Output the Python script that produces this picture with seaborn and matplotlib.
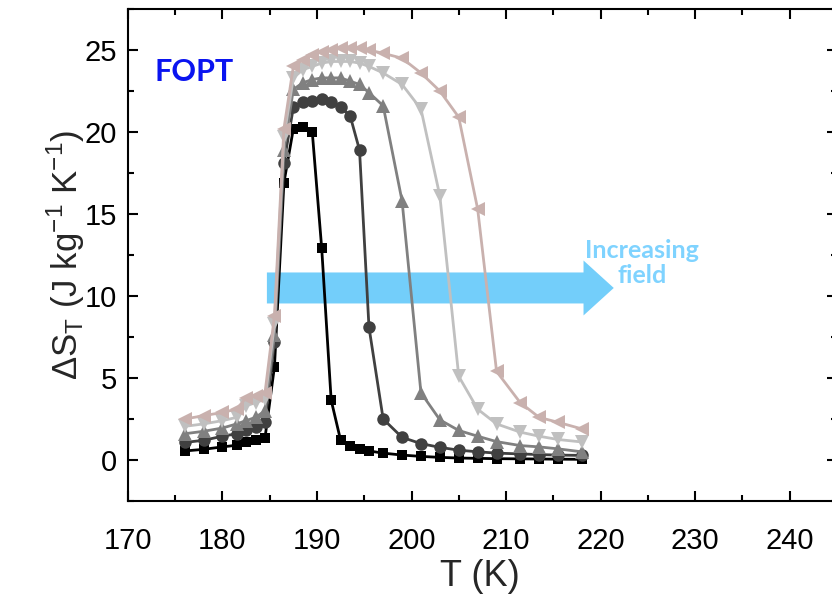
import numpy as np
import pandas as pd
import matplotlib
matplotlib.use("Agg")
import matplotlib.pyplot as plt
import seaborn as sns
from matplotlib.patches import FancyArrow
from matplotlib.ticker import MultipleLocator

# temperatures (K), common grid for all field values
T = [176, 178, 180, 181.5, 182.5, 183.5, 184.5, 185.5, 186.5, 187.5, 188.5,
     189.5, 190.5, 191.5, 192.5, 193.5, 194.5, 195.5, 197, 199, 201, 203,
     205, 207, 209, 211.5, 213.5, 215.5, 218]

# entropy change curves, lowest field -> highest field
ds_1 = [0.55, 0.65, 0.8, 0.9, 1.1, 1.2, 1.35, 5.7, 16.9, 20.2, 20.3, 20.0,
        12.9, 3.65, 1.2, 0.85, 0.65, 0.55, 0.42, 0.3, 0.22, 0.16, 0.12, 0.1,
        0.08, 0.07, 0.06, 0.05, 0.04]
ds_2 = [1.07, 1.2, 1.45, 1.6, 1.85, 2.0, 2.3, 7.2, 18.1, 21.5, 21.8, 21.9,
        22.0, 21.8, 21.5, 21.0, 18.9, 8.1, 2.5, 1.38, 1.0, 0.77, 0.6, 0.5,
        0.42, 0.37, 0.33, 0.3, 0.28]
ds_3 = [1.6, 1.75, 1.95, 2.2, 2.4, 2.6, 3.0, 7.6, 18.9, 22.6, 23.0, 23.2,
        23.3, 23.3, 23.3, 23.1, 22.9, 22.4, 21.6, 15.8, 4.1, 2.45, 1.8, 1.45,
        1.12, 0.88, 0.8, 0.68, 0.5]
ds_4 = [2.05, 2.2, 2.4, 2.6, 3.3, 3.5, 3.7, 8.3, 19.7, 23.3, 23.8, 24.0,
        24.2, 24.3, 24.3, 24.3, 24.2, 24.0, 23.6, 22.9, 21.4, 16.1, 5.1, 3.1,
        2.2, 1.7, 1.45, 1.25, 1.1]
ds_5 = [2.5, 2.7, 2.9, 3.1, 3.8, 3.9, 4.1, 8.8, 20.2, 24.0, 24.4, 24.7,
        24.9, 25.0, 25.1, 25.1, 25.1, 25.0, 24.8, 24.5, 23.6, 22.5, 20.9,
        15.3, 5.4, 3.5, 2.6, 2.3, 1.9]

series = [ds_1, ds_2, ds_3, ds_4, ds_5]
colors = ["#000000", "#404040", "#808080", "#c0c0c0", "#c9b1ae"]
markers = ["s", "o", "^", "v", "<"]
msizes = [6.5, 9, 10.5, 10.5, 10.5]

sns.set_style("ticks")
plt.rcParams["font.family"] = ["Liberation Sans", "DejaVu Sans"]
plt.rcParams["mathtext.fontset"] = "custom"
plt.rcParams["mathtext.rm"] = "Liberation Sans"

fig = plt.figure(figsize=(8.32, 6.01), dpi=100)
ax = fig.add_axes([0.1538, 0.1664, 0.852, 0.8186])

for ys, c, m, s in zip(series, colors, markers, msizes):
    df = pd.DataFrame({"T": T, "dS": ys})
    sns.lineplot(data=df, x="T", y="dS", ax=ax, color=c, marker=m,
                 markersize=s, markeredgewidth=0, linewidth=2.0, sort=False)

# increasing-field arrow
ax.add_patch(FancyArrow(184.7, 10.49, 36.7, 0, width=1.89, head_width=3.35,
                        head_length=3.2, length_includes_head=True,
                        color="#73cefa", linewidth=0, zorder=1))
ax.text(224.4, 12.0, "Increasing\nfield", color="#7fd3ff", fontsize=18,
        fontweight="bold", family=["Lato", "DejaVu Sans"], ha="center",
        va="center", linespacing=1.1)
ax.text(172.85, 23.65, "FOPT", color="#0a14f0", fontsize=22,
        fontweight="bold", family=["Lato", "DejaVu Sans"], ha="left",
        va="center")

ax.set_xlim(170, 245)
ax.set_ylim(-2.5, 27.5)
ax.xaxis.set_major_locator(MultipleLocator(10))
ax.xaxis.set_minor_locator(MultipleLocator(5))
ax.yaxis.set_major_locator(MultipleLocator(5))
ax.yaxis.set_minor_locator(MultipleLocator(2.5))
ax.tick_params(which="both", direction="in", top=True, right=True,
               width=1.5, colors="black")
ax.tick_params(which="major", length=7, labelsize=21)
ax.tick_params(which="minor", length=4)
ax.tick_params(axis="x", pad=19)
ax.tick_params(axis="y", pad=8)
for sp in ax.spines.values():
    sp.set_linewidth(1.5)
    sp.set_color("black")

ax.set_xlabel("T (K)", fontsize=26)
ax.set_ylabel("ΔS$_\\mathregular{T}$ (J kg$^\\mathregular{-1}$ K$^\\mathregular{-1}$)",
              fontsize=25)
ax.xaxis.set_label_coords(0.496, -0.118)
ax.yaxis.set_label_coords(-0.058, 0.5)

fig.savefig("out.png", dpi=100)
